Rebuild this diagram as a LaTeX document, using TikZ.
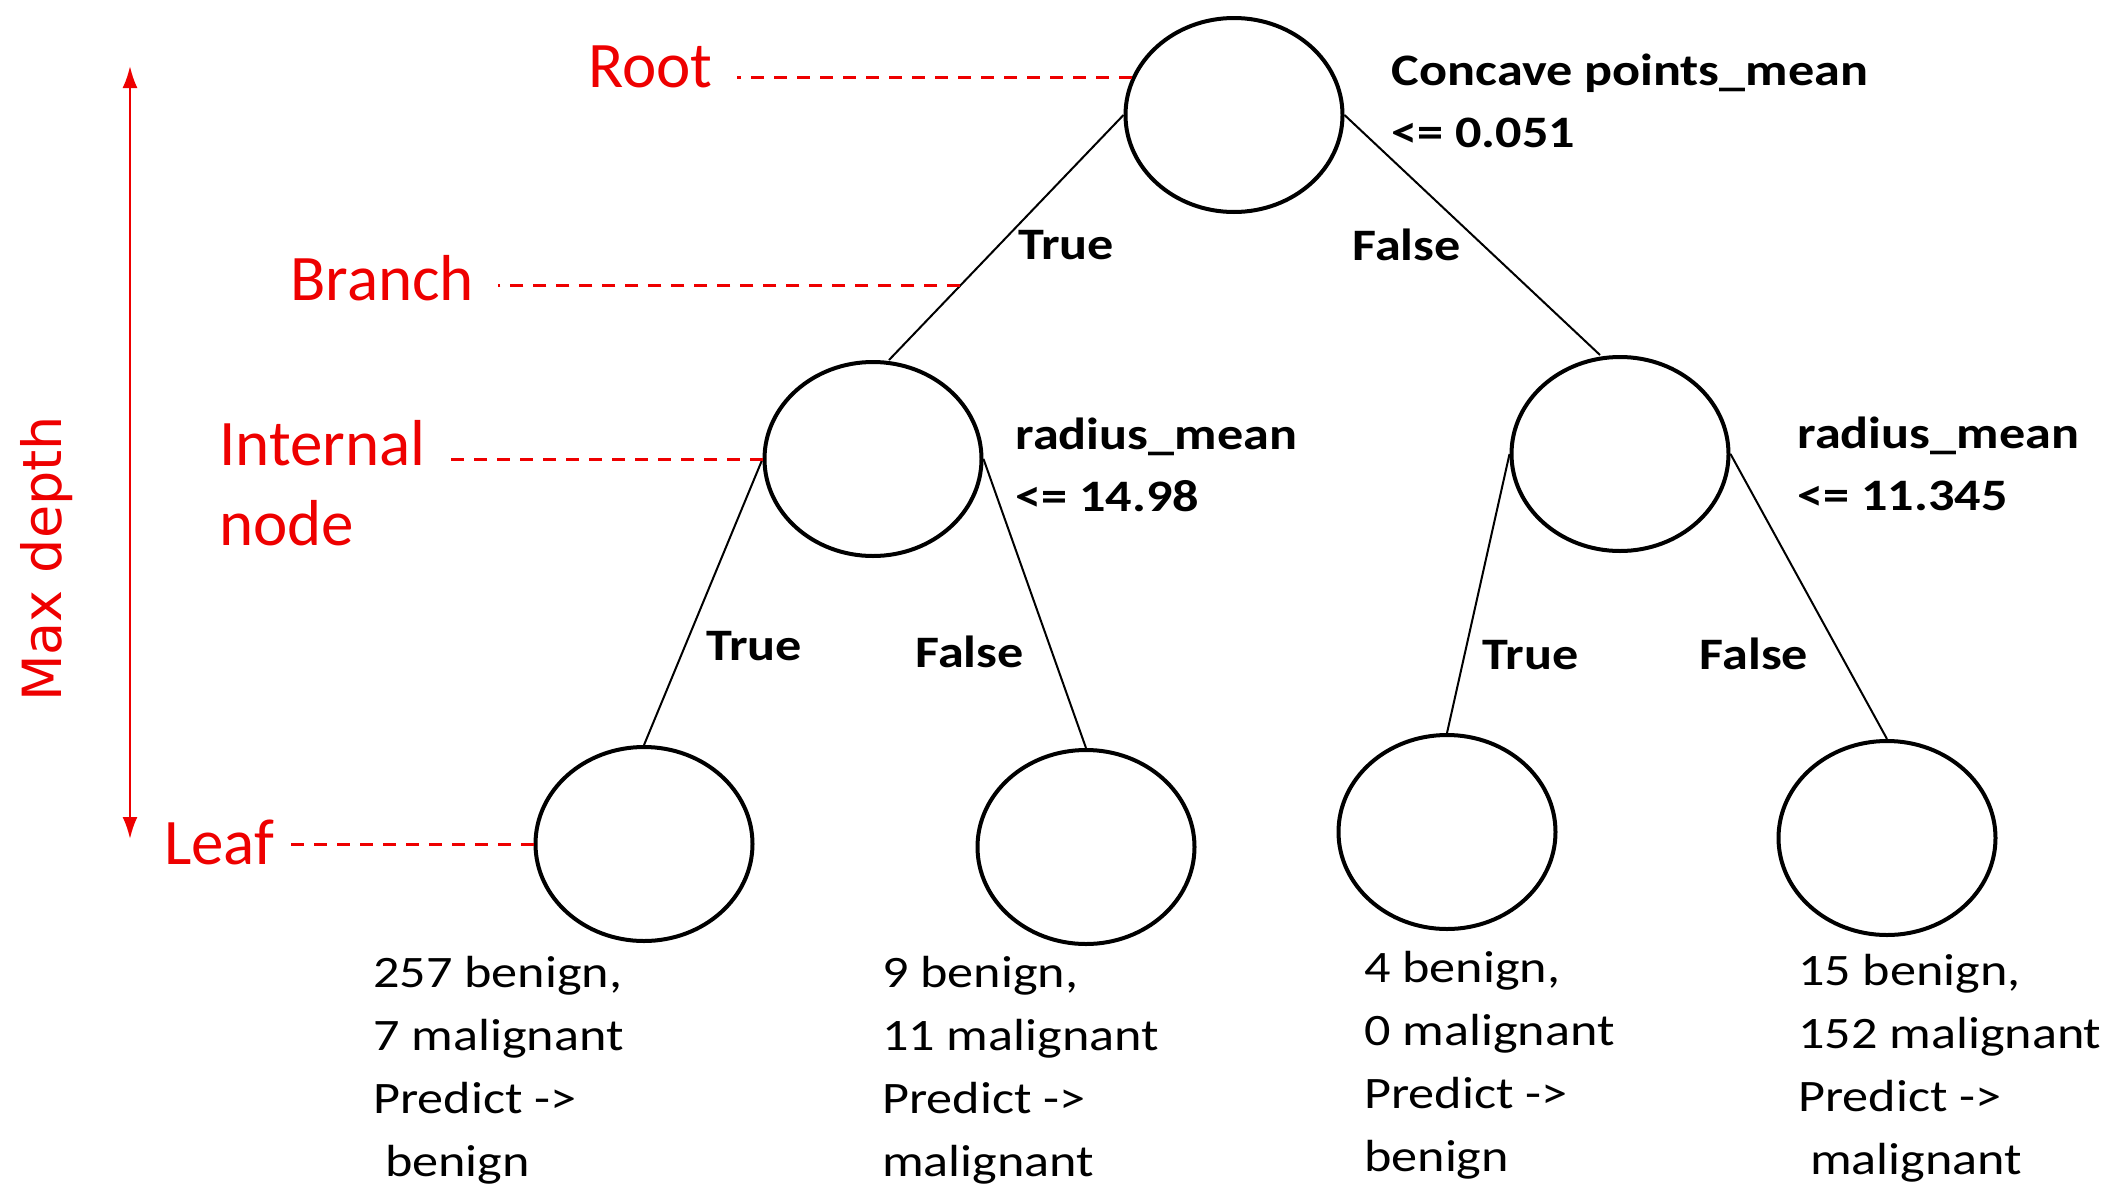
\documentclass[tikz,border=0pt]{standalone}
\usepackage{fontspec}
\setmainfont{Carlito}
\newfontfamily\treefont[FakeStretch=1.16]{Carlito}
\newfontfamily\depthfont{DejaVu Sans}
\usepackage{tikz}
\usetikzlibrary{
  arrows.meta,
  shapes.geometric,
  positioning,
  calc
}
\definecolor{dtMark}{HTML}{EE0000}
\tikzset{
  treenode/.style={
    draw, ellipse, line width=4pt, minimum width=217pt, minimum height=194pt,
    inner sep=0pt
  },
  branchline/.style={line width=2pt},
  split/.style={font=\treefont\bfseries\fontsize{45}{62}\selectfont, align=left, inner sep=0pt},
  answer/.style={font=\treefont\bfseries\fontsize{45}{54}\selectfont, inner sep=0pt},
  leaftext/.style={font=\treefont\fontsize{45}{63}\selectfont, align=left, inner sep=0pt, anchor=north west},
  part/.style={text=dtMark, font=\fontsize{65}{80}\selectfont, align=left, inner sep=0pt},
  pointer/.style={dtMark, line width=3pt, dash pattern=on 13pt off 10pt},
  depthline/.style={dtMark, line width=2.5pt, {Latex[length=22pt,width=15pt]}-{Latex[length=22pt,width=15pt]}}
}

\begin{document}
\begin{tikzpicture}[x=1pt, y=1pt]
  \useasboundingbox (0,0) rectangle (2112,-1186);
  % tree
  \node[treenode] (root) at (1234,-115) {};
  \node[treenode, on grid, below left=344pt and 361pt of root] (intl) {};
  \node[treenode, on grid, below right=339pt and 386pt of root] (intr) {};
  \node[treenode, on grid, below left=385pt and 229pt of intl] (leaf1) {};
  \node[treenode, on grid, below right=388pt and 213pt of intl] (leaf2) {};
  \node[treenode, on grid, below left=378pt and 173pt of intr] (leaf3) {};
  \node[treenode, on grid, below right=384pt and 267pt of intr] (leaf4) {};
  \draw[branchline] (root.west) -- node[answer, pos=0.53, right=18pt] {True} coordinate[pos=0.696] (brpt) ([xshift=16pt]intl.north);
  \draw[branchline] (root.east) -- node[answer, pos=0.541, left=21pt] {False} ([xshift=-20pt]intr.north);
  \draw[branchline] (intl.west) -- node[answer, pos=0.653, right=20pt] {True} (leaf1.north);
  \draw[branchline] (intl.east) -- node[answer, pos=0.667, left=27pt] {False} (leaf2.north);
  \draw[branchline] (intr.west) -- node[answer, pos=0.719, right=17pt] {True} (leaf3.north);
  \draw[branchline] (intr.east) -- node[answer, pos=0.70, left=31pt] {False} (leaf4.north);
  % split rules
  \node[split, right=47pt of root.east, yshift=14pt] (rootq) {Concave points\_mean\\<= 0.051};
  \node[split, right=32pt of intl.east, yshift=-6pt] (intlq) {radius\_mean\\<= 14.98};
  \node[split, right=67pt of intr.east, yshift=-10pt] (intrq) {radius\_mean\\<= 11.345};
  % leaf counts
  \node[leaftext] (txt1) at ([xshift=-271pt, yshift=-13pt]leaf1.south) {257 benign,\\7 malignant\\Predict ->\\\mbox{}\ benign};
  \node[leaftext] (txt2) at ([xshift=-204pt, yshift=-10pt]leaf2.south) {9 benign,\\11 malignant\\Predict ->\\malignant};
  \node[leaftext] (txt3) at ([xshift=-83pt, yshift=-20pt]leaf3.south) {4 benign,\\0 malignant\\Predict ->\\benign};
  \node[leaftext] (txt4) at ([xshift=-89pt, yshift=-17pt]leaf4.south) {15 benign,\\152 malignant\\Predict ->\\\mbox{}\ malignant};
  % parts of the tree
  \node[part, left=419pt of root.160, yshift=11pt] (rootlbl) {Root};
  \node[part, left=486pt of brpt, yshift=7pt] (branchlbl) {Branch};
  \node[part, left=337pt of intl.west, yshift=-24pt] (intlbl) {Internal\\node};
  \node[part, left=259pt of leaf1.west, yshift=2pt] (leaflbl) {Leaf};
  \draw[pointer] (root.160) -- ($(rootlbl.east |- root.160)+(24pt,0)$);
  \draw[pointer] (brpt) -- ($(branchlbl.east |- brpt)+(24pt,0)$);
  \draw[pointer] (intl.west) -- ($(intlbl.east |- intl.west)+(18pt,0)$);
  \draw[pointer] (leaf1.west) -- ($(leaflbl.east |- leaf1.west)+(16pt,0)$);
  % depth
  \coordinate (dtop) at (130,-66);
  \coordinate (dbot) at (130,-839);
  \draw[depthline] (dtop) -- (dbot);
  \node[text=dtMark, font=\depthfont\fontsize{54}{60}\selectfont, rotate=90, inner sep=0pt] (depthlbl) at (47,-559) {Max depth};
\end{tikzpicture}
\end{document}
